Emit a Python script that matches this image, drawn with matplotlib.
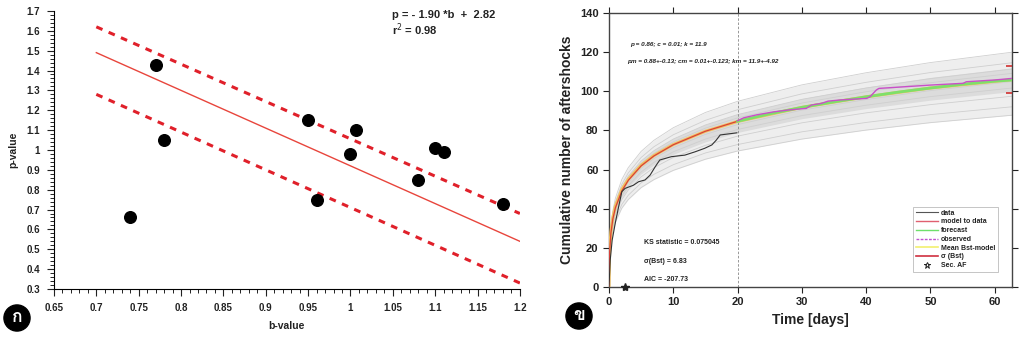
import matplotlib
matplotlib.use('Agg')
import matplotlib.pyplot as plt
from matplotlib.ticker import MultipleLocator, FuncFormatter
from matplotlib.lines import Line2D
from matplotlib import font_manager

plt.rcParams['font.family'] = ['Liberation Sans', 'DejaVu Sans']
plt.rcParams['axes.unicode_minus'] = False

# ---- panel ก : p-value vs b-value ----
b_val = [0.74, 0.77, 0.78, 0.95, 0.96, 1.00, 1.007, 1.08, 1.10, 1.11, 1.18]
p_val = [0.66, 1.43, 1.05, 1.15, 0.75, 0.98, 1.10, 0.85, 1.01, 0.99, 0.73]
fit_b = [0.7, 1.2]
fit_p = [1.49, 0.54]
upper_p = [1.62, 0.68]
lower_p = [1.28, 0.33]

# ---- panel ข : cumulative aftershocks ----
t_grid = [0, 0.1, 0.3, 0.6, 1, 2, 3, 5, 7, 10, 15, 20, 30, 40, 50, 62.7]
model_n = [0, 17.8, 27.5, 34.7, 40.5, 49.1, 54.5, 61.9, 67.0, 72.7, 79.6, 84.7]
mean_bst = [0, 18.3, 28.2, 35.5, 41.3, 49.8, 55.0, 62.2, 67.2, 72.8, 79.6, 84.6, 91.8, 97.2, 101.7, 106.0]
gray_runs = [
    [0, 19.9, 30.8, 38.9, 45.4, 55.0, 61.0, 69.3, 75.0, 81.4, 89.2, 94.9, 103.3, 109.5, 114.7, 120.0],
    [0, 19.0, 29.4, 37.1, 43.3, 52.5, 58.3, 66.2, 71.7, 77.8, 85.2, 90.6, 98.7, 104.6, 109.6, 114.6],
    [0, 18.5, 28.6, 36.1, 42.1, 51.1, 56.7, 64.4, 69.7, 75.6, 82.8, 88.1, 95.9, 101.7, 106.5, 111.4],
    [0, 18.2, 28.1, 35.4, 41.3, 50.1, 55.6, 63.1, 68.3, 74.2, 81.2, 86.4, 94.0, 99.8, 104.4, 109.2],
    [0, 17.4, 27.0, 34.0, 39.7, 48.1, 53.4, 60.7, 65.7, 71.2, 78.0, 83.0, 90.4, 95.8, 100.4, 105.0],
    [0, 16.9, 26.1, 33.0, 38.5, 46.6, 51.8, 58.8, 63.7, 69.1, 75.6, 80.5, 87.6, 92.9, 97.3, 101.7],
    [0, 16.2, 25.0, 31.6, 36.9, 44.7, 49.6, 56.3, 61.0, 66.2, 72.4, 77.1, 83.9, 89.0, 93.2, 97.5],
    [0, 15.3, 23.7, 29.8, 34.8, 42.2, 46.9, 53.2, 57.6, 62.5, 68.5, 72.8, 79.3, 84.1, 88.1, 92.1],
    [0, 14.6, 22.6, 28.5, 33.2, 40.3, 44.7, 50.8, 54.9, 59.6, 65.3, 69.5, 75.6, 80.2, 84.0, 87.8],
]
core_hi = [0, 18.9, 29.0, 36.6, 42.7, 51.6, 57.2, 64.8, 70.1, 76.0, 83.1, 88.3, 96.3, 102.2, 107.1, 112.0]
core_lo = [0, 16.6, 25.7, 32.5, 37.9, 45.9, 50.9, 57.8, 62.5, 67.8, 74.2, 79.0, 86.0, 91.2, 95.5, 99.9]

t_data = [0, 0.2, 0.5, 1, 1.5, 2.0, 2.5, 3.8, 4.6, 5.6, 6.4, 7.2, 7.9, 9.7, 11.8, 13.4, 14.9, 16, 16.7, 17.3, 19.9]
n_data = [0, 14, 24, 33, 41, 48.7, 50.4, 52, 53.8, 54.7, 57.2, 61.5, 64.9, 66.6, 67.4, 69.1, 70.9, 72.6, 75.1, 77.7, 78.8]
t_fc = [20, 25, 30, 35, 40, 45, 50, 55, 60, 62.7]
n_fc = [84.7, 88.5, 91.8, 94.6, 97.2, 99.6, 101.7, 103.6, 105.2, 105.8]
t_obs = [20, 21, 23, 25.6, 28, 30.7, 31.5, 33, 34.1, 36, 40.1, 40.6, 41.6, 42, 45.8, 50, 55.1, 55.6, 60, 62.7]
n_obs = [85, 86.5, 88, 89.5, 90.5, 91.3, 93, 93.8, 95, 95.6, 96.4, 97.2, 100.7, 101.5, 102.3, 103.2, 104.1, 104.9, 105.8, 106.6]
sigma_bst = [99.2, 112.8]
sec_af_t = [2.5]


def thai_family():
    try:
        from fontTools.ttLib import TTFont
    except Exception:
        return 'DejaVu Sans'
    for f in font_manager.fontManager.ttflist:
        try:
            tt = TTFont(f.fname, fontNumber=0, lazy=True)
            cmap = tt.getBestCmap()
            if cmap and 0x0E01 in cmap and 0x0E02 in cmap:
                return f.name
        except Exception:
            continue
    return 'DejaVu Sans'


fig = plt.figure(figsize=(10.24, 3.42), dpi=100)
txt = '#222222'

# ---------------- left panel ----------------
ax = fig.add_axes([0.0527, 0.155, 0.455, 0.813])
ax.plot(fit_b, fit_p, color='#e8453c', lw=1.0)
ax.plot(fit_b, upper_p, color='#e0202a', lw=2.2, dashes=(2.2, 2.2))
ax.plot(fit_b, lower_p, color='#e0202a', lw=2.2, dashes=(2.2, 2.2))
ax.scatter(b_val, p_val, s=70, color='black', zorder=3)
ax.set_xlim(0.65, 1.2)
ax.set_ylim(0.3, 1.7)
ax.spines['top'].set_visible(False)
ax.spines['right'].set_visible(False)
ax.xaxis.set_major_locator(MultipleLocator(0.05))
ax.xaxis.set_minor_locator(MultipleLocator(0.01))
ax.yaxis.set_major_locator(MultipleLocator(0.1))
ax.yaxis.set_minor_locator(MultipleLocator(0.02))
fmt = FuncFormatter(lambda v, pos: '%g' % round(v, 2))
ax.xaxis.set_major_formatter(fmt)
ax.yaxis.set_major_formatter(fmt)
ax.tick_params(which='major', length=5, width=0.8, labelsize=7, colors=txt, pad=5)
ax.tick_params(which='minor', length=3, width=0.6)
for lab in ax.get_xticklabels() + ax.get_yticklabels():
    lab.set_fontweight('bold')
ax.set_xlabel('b-value', fontsize=7.5, fontweight='bold', color=txt, labelpad=6)
ax.set_ylabel('p-value', fontsize=7.5, fontweight='bold', color=txt, labelpad=6)
ax.text(0.725, 0.986, 'p = - 1.90 *b  +  2.82', transform=ax.transAxes,
        fontsize=8, fontweight='bold', color=txt, va='center')
ax.text(0.725, 0.932, 'r$^{2}$ = 0.98', transform=ax.transAxes,
        fontsize=8, fontweight='bold', color=txt, va='center')

# ---------------- right panel ----------------
ax2 = fig.add_axes([0.5947, 0.1608, 0.3936, 0.801])
ax2.fill_between(t_grid, gray_runs[-1], gray_runs[0], color='#eeeeee', lw=0, zorder=1)
ax2.fill_between(t_grid, core_lo, core_hi, color='#dcdcdc', lw=0, zorder=1)
for run in gray_runs:
    ax2.plot(t_grid, run, color='#cfcfcf', lw=0.6, zorder=2)
ax2.axvline(20, color='#888888', lw=0.6, ls=(0, (3, 2)), zorder=2)
ax2.plot(t_grid, mean_bst, color='#f3c25e', lw=2.2, zorder=3)
ax2.plot(t_grid[:len(model_n)], model_n, color='#d8403a', lw=0.9, zorder=4)
ax2.plot(t_fc, n_fc, color='#7ee06a', lw=2.0, zorder=4)
ax2.plot(t_obs, n_obs, color='#c84fc8', lw=1.0, zorder=5)
ax2.plot(t_data, n_data, color='#333333', lw=0.8, zorder=5)
ax2.plot([62.3] * len(sigma_bst), sigma_bst, ls='none', marker='_', ms=5,
         mew=1.2, color='#d03030', zorder=6, clip_on=False)
ax2.plot(sec_af_t, [0] * len(sec_af_t), ls='none', marker='*', ms=6,
         color='#222222', zorder=7, clip_on=False)
ax2.set_xlim(0, 62.7)
ax2.set_ylim(0, 140)
ax2.xaxis.set_major_locator(MultipleLocator(10))
ax2.yaxis.set_major_locator(MultipleLocator(20))
ax2.tick_params(length=4, width=0.8, labelsize=8, colors=txt, top=True, right=True)
for lab in ax2.get_xticklabels() + ax2.get_yticklabels():
    lab.set_fontweight('bold')
for sp in ax2.spines.values():
    sp.set_color('#444444')
    sp.set_linewidth(1.0)
ax2.set_xlabel('Time [days]', fontsize=10, fontweight='bold', color=txt, labelpad=4)
ax2.set_ylabel('Cumulative number of aftershocks', fontsize=10, fontweight='bold',
               color=txt, labelpad=4)

small = dict(fontsize=4.6, fontweight='bold', style='italic', color=txt, va='center')
ax2.text(3.3, 124, 'p = 0.86; c = 0.01; k = 11.9', **small)
ax2.text(2.8, 115, 'pm = 0.88+-0.13; cm = 0.01+-0.123; km = 11.9+-4.92', **small)
small2 = dict(fontsize=5, fontweight='bold', color=txt, va='center')
ax2.text(5.4, 22.5, 'KS statistic = 0.075045', **small2)
ax2.text(5.4, 12.8, '\u03c3(Bst) = 6.83', **small2)
ax2.text(5.4, 3.6, 'AIC = -207.73', **small2)

handles = [
    Line2D([], [], color='#555555', lw=0.8),
    Line2D([], [], color='#e06070', lw=1.0),
    Line2D([], [], color='#6ee06a', lw=1.0),
    Line2D([], [], color='#c050d0', lw=1.0, ls=(0, (2, 1))),
    Line2D([], [], color='#f2f070', lw=1.2),
    Line2D([], [], color='#d03040', lw=1.2),
    Line2D([], [], ls='none', marker='*', ms=5, mfc='white', mec='#222222', mew=0.7),
]
labels = ['data', 'model to data', 'forecast', 'observed', 'Mean Bst-model',
          '\u03c3 (Bst)', 'Sec. AF']
leg = ax2.legend(handles, labels, loc='lower right', bbox_to_anchor=(0.965, 0.055),
                 fontsize=5, frameon=True, fancybox=False, edgecolor='#aaaaaa',
                 handlelength=3.2, handletextpad=0.4, labelspacing=0.25,
                 borderpad=0.4, borderaxespad=0)
leg.get_frame().set_linewidth(0.6)
for t in leg.get_texts():
    t.set_fontweight('bold')
    t.set_color(txt)

# panel letters
thai = thai_family()
for xp, yp, s in [(17, 318, '\u0e01'), (579, 316, '\u0e02')]:
    fig.text(xp / 1024, 1 - yp / 342, s, ha='center', va='center', color='white',
             fontsize=12.5, fontweight='bold', family=[thai, 'DejaVu Sans'],
             bbox=dict(boxstyle='circle,pad=0.32', fc='black', ec='black'))

fig.savefig('out.png', dpi=100)
